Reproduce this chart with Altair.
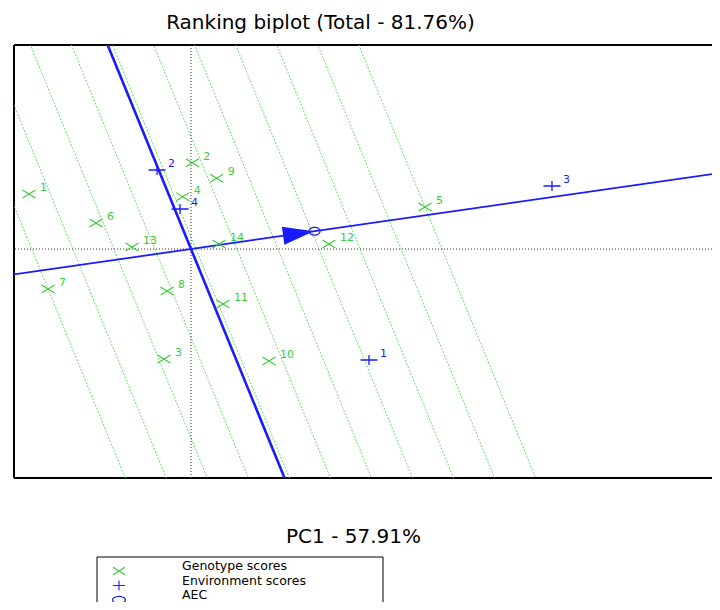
import math
import altair as alt
import pandas as pd

# ---------------- data ----------------
title_text = "Ranking biplot (Total - 81.76%)"
x_title = "PC1 - 57.91%"
legend_labels = ["Genotype scores", "Environment scores", "AEC"]

gen_labels = ["1", "2", "3", "4", "5", "6", "7", "8", "9", "10", "11", "12", "13", "14"]
gen_x = [-1.332, 0.011, -0.222, -0.068, 1.923, -0.781, -1.175, -0.197, 0.211, 0.641, 0.263, 1.134, -0.485, 0.230]
gen_y = [0.762, 1.196, -1.524, 0.725, 0.582, 0.360, -0.554, -0.582, 0.980, -1.552, -0.762, 0.069, 0.028, 0.069]

env_labels = ["1", "2", "3", "4"]
env_x = [1.463, -0.279, 2.967, -0.090]
env_y = [-1.538, 1.095, 0.873, 0.554]

n_rank_lines = 11

# ---------------- layout ----------------
W, H = 698, 433
PX_PER_X = 730 / 6.0
PX_PER_Y = 433 / 6.0
X0_PX = 177.0
Y0_PX = 204.0
x_dom = [-X0_PX / PX_PER_X, (W - X0_PX) / PX_PER_X]
y_dom = [-(H - Y0_PX) / PX_PER_Y, Y0_PX / PX_PER_Y]

xs = alt.Scale(domain=x_dom, nice=False, zero=False)
ys = alt.Scale(domain=y_dom, nice=False, zero=False)

GREEN = "#38cc38"
GREEN_LINE = "#66dd66"
BLUE = "#1a1aff"
FONT = "DejaVu Sans"

# ---------------- derived geometry ----------------
gen_df = pd.DataFrame({"label": gen_labels, "x": gen_x, "y": gen_y})
env_df = pd.DataFrame({"label": env_labels, "x": env_x, "y": env_y})

ax = sum(env_x) / len(env_x)
ay = sum(env_y) / len(env_y)
alen = math.hypot(ax, ay)
ux, uy = ax / alen, ay / alen
vx, vy = -uy, ux
L = 20.0

proj = [gx * ux + gy * uy for gx, gy in zip(gen_x, gen_y)]
pmin, pmax = min(proj), max(proj)
levels = [pmin + k * (pmax - pmin) / (n_rank_lines - 1) for k in range(n_rank_lines)]
rank_df = pd.DataFrame({
    "x": [p * ux - L * vx for p in levels],
    "y": [p * uy - L * vy for p in levels],
    "x2": [p * ux + L * vx for p in levels],
    "y2": [p * uy + L * vy for p in levels],
})

aec_line = pd.DataFrame({"x": [-L * ux], "y": [-L * uy], "x2": [L * ux], "y2": [L * uy]})
aec_perp = pd.DataFrame({"x": [-L * vx], "y": [-L * vy], "x2": [L * vx], "y2": [L * vy]})
aec_pt = pd.DataFrame({"x": [ax], "y": [ay]})
arrow_pt = pd.DataFrame({"x": [0.87 * ax], "y": [0.87 * ay]})
arrow_angle = math.degrees(math.atan2(-ay * PX_PER_Y, ax * PX_PER_X)) % 360

X = alt.X("x:Q", scale=xs, axis=None)
Y = alt.Y("y:Q", scale=ys, axis=None)


def ellipse_path(ry, n=24):
    pts = []
    for k in range(n):
        t = 2 * math.pi * k / n
        pts.append("%.3f,%.3f" % (math.cos(t), ry * math.sin(t)))
    return "M" + "L".join(pts) + "Z"


CROSS = "M-1,-0.62L1,0.62M-1,0.62L1,-0.62"
PLUS = "M-1,0L1,0M0,-0.6L0,0.6"
ELLIPSE = ellipse_path(0.72)
ARROW = "M1,0L-1,-0.58L-1,0.58Z"

layers = []

# frame (left, top, bottom; right side lies beyond the picture)
frame_df = pd.DataFrame({"a": [0]})
layers.append(alt.Chart(frame_df).mark_rule(color="black", strokeWidth=2)
              .encode(x=alt.value(0), y=alt.value(0), y2=alt.value(H)))
layers.append(alt.Chart(frame_df).mark_rule(color="black", strokeWidth=2)
              .encode(x=alt.value(0), x2=alt.value(W + 10), y=alt.value(0)))
layers.append(alt.Chart(frame_df).mark_rule(color="black", strokeWidth=2)
              .encode(x=alt.value(0), x2=alt.value(W + 10), y=alt.value(H)))

layers.append(alt.Chart(rank_df).mark_rule(color=GREEN_LINE, strokeWidth=1, strokeDash=[2, 1.5], clip=True)
              .encode(x=X, y=Y, x2="x2:Q", y2="y2:Q"))

zero_df = pd.DataFrame({"v": [0.0]})
layers.append(alt.Chart(zero_df).mark_rule(color="#333333", strokeWidth=1, strokeDash=[1, 2])
              .encode(x=alt.X("v:Q", scale=xs, axis=None)))
layers.append(alt.Chart(zero_df).mark_rule(color="#333333", strokeWidth=1, strokeDash=[1, 2])
              .encode(y=alt.Y("v:Q", scale=ys, axis=None)))

layers.append(alt.Chart(aec_line).mark_rule(color=BLUE, strokeWidth=1.8, clip=True)
              .encode(x=X, y=Y, x2="x2:Q", y2="y2:Q"))
layers.append(alt.Chart(aec_perp).mark_rule(color=BLUE, strokeWidth=2.6, clip=True)
              .encode(x=X, y=Y, x2="x2:Q", y2="y2:Q"))

layers.append(alt.Chart(arrow_pt).mark_point(shape=ARROW, filled=True, color=BLUE, opacity=1,
                                             size=961, angle=arrow_angle)
              .encode(x=X, y=Y))
layers.append(alt.Chart(aec_pt).mark_point(shape=ELLIPSE, filled=False, color=BLUE, opacity=1,
                                           size=121, strokeWidth=1.2)
              .encode(x=X, y=Y))

layers.append(alt.Chart(gen_df).mark_point(shape=CROSS, filled=False, color=GREEN, opacity=1,
                                           size=169, strokeWidth=1.1)
              .encode(x=X, y=Y))
layers.append(alt.Chart(gen_df).mark_text(color=GREEN, font=FONT, fontSize=11, align="left",
                                          baseline="middle", dx=11, dy=-6)
              .encode(x=X, y=Y, text="label:N"))

layers.append(alt.Chart(env_df).mark_point(shape=PLUS, filled=False, color=BLUE, opacity=1,
                                           size=289, strokeWidth=1.3)
              .encode(x=X, y=Y))
layers.append(alt.Chart(env_df).mark_text(color=BLUE, font=FONT, fontSize=11, align="left",
                                          baseline="middle", dx=11, dy=-6)
              .encode(x=X, y=Y, text="label:N"))

# titles
layers.append(alt.Chart(pd.DataFrame({"t": [title_text]}))
              .mark_text(font=FONT, fontSize=20, color="black", align="center", baseline="alphabetic")
              .encode(x=alt.value(306.5), y=alt.value(-16.5), text="t:N"))
layers.append(alt.Chart(pd.DataFrame({"t": [x_title]}))
              .mark_text(font=FONT, fontSize=20, color="black", align="center", baseline="alphabetic")
              .encode(x=alt.value(339.5), y=alt.value(498), text="t:N"))

# legend box
layers.append(alt.Chart(pd.DataFrame({"a": [0]}))
              .mark_rect(fill="white", stroke="black", strokeWidth=1)
              .encode(x=alt.value(83), x2=alt.value(369), y=alt.value(512), y2=alt.value(640)))
leg_shapes = [(CROSS, GREEN, 144), ("M-1,0L1,0M0,-0.83L0,0.83", BLUE, 144), (ellipse_path(0.55), BLUE, 169)]
for i, (lab, (shp, col, sz)) in enumerate(zip(legend_labels, leg_shapes)):
    d = pd.DataFrame({"t": [lab]})
    layers.append(alt.Chart(d).mark_point(shape=shp, filled=False, color=col, opacity=1, size=sz, strokeWidth=1.1)
                  .encode(x=alt.value(105), y=alt.value(526 + 14.5 * i)))
    layers.append(alt.Chart(d).mark_text(font=FONT, fontSize=12.5, color="black", align="left", baseline="alphabetic")
                  .encode(x=alt.value(168), y=alt.value(525 + 14.5 * i), text="t:N"))

chart = (alt.layer(*layers)
         .properties(width=W, height=H,
                     autosize=alt.AutoSizeParams(type="none"),
                     padding={"left": 6, "top": 37, "right": 0, "bottom": 124})
         .configure(background="white")
         .configure_view(strokeWidth=0))

chart.save("out.html", embed_options={"renderer": "svg", "actions": False})
